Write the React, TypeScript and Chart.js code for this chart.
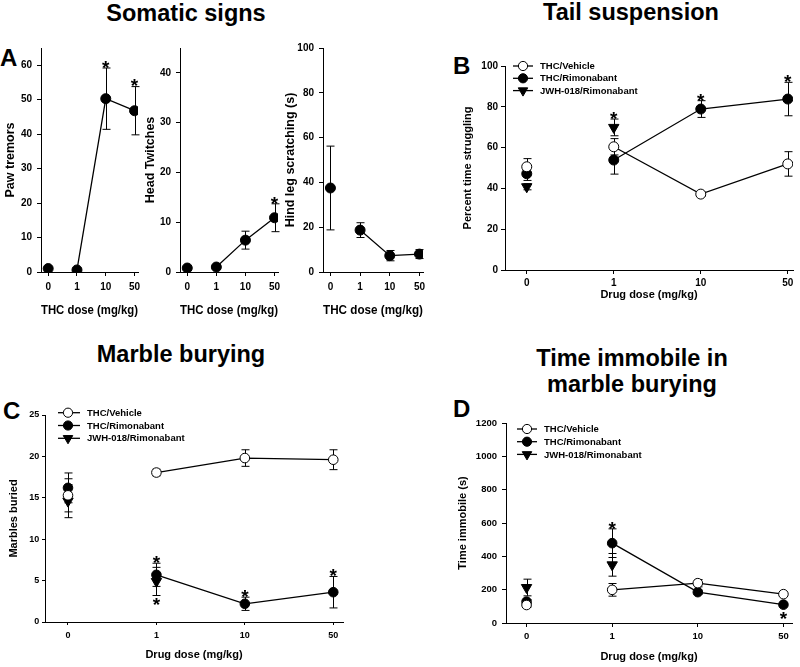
import React, { useEffect, useRef } from 'react';
import { Chart, registerables } from 'chart.js';

Chart.register(...registerables);

const FONT = "'Liberation Sans', Arial, Helvetica, sans-serif";

// ---------------- data ----------------
const DOSES = ['0', '1', '10', '50'];
const SERIES_LABELS = ['THC/Vehicle', 'THC/Rimonabant', 'JWH-018/Rimonabant'];

// Panel A – somatic signs (THC/Rimonabant)
const PAW_TREMORS = [1.0, 0.6, 50.3, 46.8];
const PAW_TREMORS_SEM = [0.4, 0.3, 8.9, 7.0];
const PAW_TICKS = [0, 10, 20, 30, 40, 50, 60];

const HEAD_TWITCHES = [0.8, 1.0, 6.4, 10.9];
const HEAD_TWITCHES_SEM = [0.3, 0.4, 1.8, 2.8];
const HEAD_TICKS = [0, 10, 20, 30, 40];

const HIND_LEG = [37.5, 18.7, 7.3, 8.0];
const HIND_LEG_SEM = [18.7, 3.3, 2.3, 2.0];
const HIND_TICKS = [0, 20, 40, 60, 80, 100];

// Panel B – tail suspension
const TAIL_VEHICLE = [50.6, 60.4, 37.2, 52.0];
const TAIL_VEHICLE_SEM = [4.0, 4.0, 1.0, 6.0];
const TAIL_RIMO = [47.2, 53.9, 78.9, 83.8];
const TAIL_RIMO_SEM = [3.3, 6.9, 4.1, 8.2];
const TAIL_JWH = [40.8, 69.9];
const TAIL_JWH_SEM = [1.5, 4.1];
const TAIL_TICKS = [0, 20, 40, 60, 80, 100];

// Panel C – marble burying
const MARBLE_VEHICLE = [15.3, 18.05, 19.8, 19.6];
const MARBLE_VEHICLE_SEM = [2.0, 0.4, 1.0, 1.2];
const MARBLE_RIMO = [16.2, 5.7, 2.2, 3.6];
const MARBLE_RIMO_SEM = [1.8, 1.4, 0.8, 1.9];
const MARBLE_JWH = [14.6, 4.9];
const MARBLE_JWH_SEM = [2.0, 1.7];
const MARBLE_TICKS = [0, 5, 10, 15, 20, 25];

// Panel D – time immobile in marble burying
const IMMOBILE_VEHICLE = [108, 199, 239, 173];
const IMMOBILE_VEHICLE_SEM = [12, 38, 22, 10];
const IMMOBILE_RIMO = [128, 479, 185, 110];
const IMMOBILE_RIMO_SEM = [12, 86, 12, 10];
const IMMOBILE_JWH = [213, 349];
const IMMOBILE_JWH_SEM = [50, 68];
const IMMOBILE_TICKS = [0, 200, 400, 600, 800, 1000, 1200];

// significance marks: series index, dose index, side
const PAW_STARS = [
  { series: 0, dose: 2, side: 'above' },
  { series: 0, dose: 3, side: 'above' },
];
const HEAD_STARS = [{ series: 0, dose: 3, side: 'above' }];
const TAIL_STARS = [
  { series: 2, dose: 1, side: 'above' },
  { series: 1, dose: 2, side: 'above' },
  { series: 1, dose: 3, side: 'above' },
];
const MARBLE_STARS = [
  { series: 1, dose: 1, side: 'above' },
  { series: 2, dose: 1, side: 'below' },
  { series: 1, dose: 2, side: 'above' },
  { series: 1, dose: 3, side: 'above' },
];
const IMMOBILE_STARS = [
  { series: 1, dose: 1, side: 'above' },
  { series: 1, dose: 3, side: 'below' },
];

// ---------------- plugins ----------------
const errorBarPlugin = {
  id: 'errorBars',
  beforeDatasetsDraw(chart: any, _a: any, opts: any) {
    const ctx = chart.ctx;
    const ys = chart.scales.y;
    const cap = opts.cap ?? 4;
    ctx.save();
    ctx.strokeStyle = '#000';
    ctx.lineWidth = 1;
    chart.data.datasets.forEach((ds: any, i: number) => {
      const meta = chart.getDatasetMeta(i);
      if (!ds.errors) return;
      meta.data.forEach((pt: any, j: number) => {
        const v = ds.data[j].y;
        const e = ds.errors[j];
        if (e == null || v == null) return;
        const x = Math.round(pt.x) + 0.5;
        const t = ys.getPixelForValue(v + e);
        const b = ys.getPixelForValue(v - e);
        ctx.beginPath();
        ctx.moveTo(x, t);
        ctx.lineTo(x, b);
        ctx.moveTo(x - cap, t);
        ctx.lineTo(x + cap, t);
        ctx.moveTo(x - cap, b);
        ctx.lineTo(x + cap, b);
        ctx.stroke();
      });
    });
    ctx.restore();
  },
};

const starPlugin = {
  id: 'stars',
  afterDatasetsDraw(chart: any, _a: any, opts: any) {
    const items = opts.items || [];
    const ctx = chart.ctx;
    const ys = chart.scales.y;
    const size = opts.size ?? 20;
    const gap = opts.gap ?? 6;
    ctx.save();
    ctx.font = `bold ${size}px ${FONT}`;
    ctx.fillStyle = '#000';
    ctx.textAlign = 'center';
    ctx.textBaseline = 'alphabetic';
    for (let k = 0; k < items.length; k++) {
      const st = items[k];
      const ds = chart.data.datasets[st.series];
      const pt = chart.getDatasetMeta(st.series).data[st.dose];
      const v = ds.data[st.dose].y;
      const e = ds.errors[st.dose];
      const r = ds.pointRadius;
      let cy;
      if (st.side === 'above') cy = Math.min(ys.getPixelForValue(v + e), pt.y - r) - gap;
      else cy = Math.max(ys.getPixelForValue(v - e), pt.y + r) + gap;
      ctx.fillText('*', pt.x, cy + 0.57 * size);
    }
    ctx.restore();
  },
};

function drawMarker(ctx: any, kind: string, x: number, y: number, r: number) {
  ctx.beginPath();
  if (kind === 'tri') {
    ctx.moveTo(x - r * 0.866, y - r * 0.5);
    ctx.lineTo(x + r * 0.866, y - r * 0.5);
    ctx.lineTo(x, y + r);
    ctx.closePath();
  } else {
    ctx.arc(x, y, r, 0, Math.PI * 2);
  }
  ctx.fillStyle = kind === 'open' ? '#fff' : '#000';
  ctx.fill();
  ctx.lineWidth = 1;
  ctx.strokeStyle = '#000';
  ctx.stroke();
}

const legendPlugin = {
  id: 'panelLegend',
  afterDraw(chart: any, _a: any, opts: any) {
    if (!opts || !opts.show) return;
    const ctx = chart.ctx;
    const { left, top } = chart.chartArea;
    ctx.save();
    chart.data.datasets.forEach((ds: any, i: number) => {
      const y = top + opts.y0 + i * opts.dy;
      ctx.beginPath();
      ctx.strokeStyle = '#000';
      ctx.lineWidth = 1.3;
      ctx.moveTo(left + opts.x0, y);
      ctx.lineTo(left + opts.x1, y);
      ctx.stroke();
      drawMarker(ctx, ds.markerKind, left + opts.xm, y, ds.markerKind === 'tri' ? 5.5 : 4.6);
      ctx.fillStyle = '#000';
      ctx.font = `bold ${opts.size}px ${FONT}`;
      ctx.textAlign = 'left';
      ctx.textBaseline = 'middle';
      ctx.fillText(ds.label, left + opts.xt, y + 0.5);
    });
    ctx.restore();
  },
};

// ---------------- panel specs ----------------
type Series = { label: string; values: number[]; sem: number[]; marker: string };

const A_STYLE = {
  titleSize: 12.5, titleWeight: 'bold', tickSize: 10,
  xTickLen: 4, xTickPad: 5, yTickLen: 4, yTickPad: 5,
  xMin: -0.25, xMax: 3.12, dotR: 5, triR: 6,
};

const PANELS: any[] = [
  {
    ...A_STYLE,
    area: { l: 41, t: 48, r: 138, b: 272 }, yTitleX: 10, xTitleY: 310,
    yTitle: 'Paw tremors', xTitle: 'THC dose (mg/kg)', yMax: 65, yTicks: PAW_TICKS,
    series: [{ label: 'THC', values: PAW_TREMORS, sem: PAW_TREMORS_SEM, marker: 'filled' }],
    stars: PAW_STARS,
  },
  {
    ...A_STYLE,
    area: { l: 180, t: 48, r: 278, b: 272 }, yTitleX: 150, xTitleY: 310,
    yTitle: 'Head Twitches', xTitle: 'THC dose (mg/kg)', yMax: 45, yTicks: HEAD_TICKS,
    series: [{ label: 'THC', values: HEAD_TWITCHES, sem: HEAD_TWITCHES_SEM, marker: 'filled' }],
    stars: HEAD_STARS,
  },
  {
    ...A_STYLE,
    area: { l: 323, t: 48, r: 423, b: 272 }, yTitleX: 290, xTitleY: 310,
    yTitle: 'Hind leg scratching (s)', xTitle: 'THC dose (mg/kg)', yMax: 100, yTicks: HIND_TICKS,
    series: [{ label: 'THC', values: HIND_LEG, sem: HIND_LEG_SEM, marker: 'filled' }],
    stars: [],
  },
  {
    titleSize: 11, titleWeight: 'bold', tickSize: 10,
    xTickLen: 4, xTickPad: 3.3, yTickLen: 4, yTickPad: 3,
    xMin: -0.25, xMax: 3.06, dotR: 5, triR: 6,
    area: { l: 505, t: 66, r: 793, b: 270 }, yTitleX: 468, xTitleY: 295,
    yTitle: 'Percent time struggling', xTitle: 'Drug dose (mg/kg)', yMax: 100, yTicks: TAIL_TICKS,
    series: [
      { label: SERIES_LABELS[0], values: TAIL_VEHICLE, sem: TAIL_VEHICLE_SEM, marker: 'open' },
      { label: SERIES_LABELS[1], values: TAIL_RIMO, sem: TAIL_RIMO_SEM, marker: 'filled' },
      { label: SERIES_LABELS[2], values: TAIL_JWH, sem: TAIL_JWH_SEM, marker: 'tri' },
    ],
    stars: TAIL_STARS,
    legend: { show: true, x0: 8, x1: 28, xm: 18, xt: 35, y0: 0, dy: 12.3, size: 9.5 },
  },
  {
    titleSize: 11, titleWeight: 'bold', tickSize: 9,
    xTickLen: 3, xTickPad: 5.6, yTickLen: 3, yTickPad: 2.7,
    xMin: -0.26, xMax: 3.11, dotR: 4.8, triR: 6,
    area: { l: 45, t: 415, r: 343, b: 622 }, yTitleX: 14, xTitleY: 655,
    yTitle: 'Marbles buried', xTitle: 'Drug dose (mg/kg)', yMax: 25, yTicks: MARBLE_TICKS,
    series: [
      { label: SERIES_LABELS[0], values: MARBLE_VEHICLE, sem: MARBLE_VEHICLE_SEM, marker: 'open' },
      { label: SERIES_LABELS[1], values: MARBLE_RIMO, sem: MARBLE_RIMO_SEM, marker: 'filled' },
      { label: SERIES_LABELS[2], values: MARBLE_JWH, sem: MARBLE_JWH_SEM, marker: 'tri' },
    ],
    stars: MARBLE_STARS,
    legend: { show: true, x0: 13, x1: 35, xm: 23, xt: 42, y0: -2.3, dy: 12.8, size: 9.5 },
  },
  {
    titleSize: 11, titleWeight: 'bold', tickSize: 9.5,
    xTickLen: 4, xTickPad: 3.3, yTickLen: 4, yTickPad: 5,
    xMin: -0.24, xMax: 3.1, dotR: 4.8, triR: 6,
    area: { l: 506, t: 423, r: 792, b: 623 }, yTitleX: 463, xTitleY: 657,
    yTitle: 'Time immobile (s)', xTitle: 'Drug dose (mg/kg)', yMax: 1200, yTicks: IMMOBILE_TICKS,
    series: [
      { label: SERIES_LABELS[0], values: IMMOBILE_VEHICLE, sem: IMMOBILE_VEHICLE_SEM, marker: 'open' },
      { label: SERIES_LABELS[1], values: IMMOBILE_RIMO, sem: IMMOBILE_RIMO_SEM, marker: 'filled' },
      { label: SERIES_LABELS[2], values: IMMOBILE_JWH, sem: IMMOBILE_JWH_SEM, marker: 'tri' },
    ],
    stars: IMMOBILE_STARS,
    legend: { show: true, x0: 11, x1: 31, xm: 21, xt: 38, y0: 6, dy: 12.7, size: 9.5 },
  },
];

function geom(p: any) {
  const lh = p.titleSize * 1.2;
  const left = Math.round(p.yTitleX - lh / 2);
  const top = Math.round(p.area.t - 14);
  const right = Math.round(p.area.r + 10);
  const bottom = Math.round(p.xTitleY + lh / 2);
  return {
    left, top, width: right - left, height: bottom - top,
    yW: p.area.l - left, xH: bottom - p.area.b,
    padT: p.area.t - top, padR: right - p.area.r,
  };
}

function buildConfig(p: any, g: any): any {
  const tickFont = { family: FONT, size: p.tickSize, weight: 'bold' };
  const titleFont = { family: FONT, size: p.titleSize, weight: p.titleWeight, lineHeight: 1.2 };
  const datasets = p.series.map((s: Series) => {
    const tri = s.marker === 'tri';
    return {
      label: s.label,
      markerKind: s.marker,
      data: s.values.map((v, i) => ({ x: i, y: v })),
      errors: s.sem,
      showLine: !tri,
      borderColor: '#000',
      borderWidth: 1.3,
      segment: {
        borderColor: (c: any) => (c.p0DataIndex === 0 ? 'rgba(0,0,0,0)' : '#000'),
      },
      pointStyle: tri ? 'triangle' : 'circle',
      pointRotation: tri ? 180 : 0,
      pointRadius: tri ? p.triR : p.dotR,
      pointHoverRadius: tri ? p.triR : p.dotR,
      pointBackgroundColor: s.marker === 'open' ? '#fff' : '#000',
      pointBorderColor: '#000',
      pointBorderWidth: 1,
      tension: 0,
      fill: false,
    };
  });
  return {
    type: 'line',
    data: { datasets },
    plugins: [errorBarPlugin, starPlugin, legendPlugin],
    options: {
      responsive: false,
      maintainAspectRatio: false,
      animation: false,
      events: [],
      layout: { padding: { top: g.padT, right: g.padR, left: 0, bottom: 0 }, autoPadding: false },
      plugins: {
        legend: { display: false },
        tooltip: { enabled: false },
        errorBars: { cap: 4 },
        stars: { items: p.stars, size: 19, gap: 5 },
        panelLegend: p.legend || { show: false },
      },
      scales: {
        x: {
          type: 'linear',
          min: p.xMin,
          max: p.xMax,
          afterBuildTicks: (s: any) => { s.ticks = DOSES.map((_, i) => ({ value: i })); },
          afterFit: (s: any) => { s.height = g.xH; },
          ticks: {
            callback: (v: any) => DOSES[v] ?? '',
            font: tickFont, color: '#000', padding: p.xTickPad,
            maxRotation: 0, minRotation: 0, autoSkip: false,
          },
          grid: { drawOnChartArea: false, drawTicks: true, tickLength: p.xTickLen, tickColor: '#000', tickWidth: 1 },
          border: { display: true, color: '#000', width: 1 },
          title: { display: true, text: p.xTitle, font: titleFont, color: '#000', padding: 0 },
        },
        y: {
          type: 'linear',
          min: 0,
          max: p.yMax,
          afterBuildTicks: (s: any) => { s.ticks = p.yTicks.map((v: number) => ({ value: v })); },
          afterFit: (s: any) => { s.width = g.yW; },
          ticks: { callback: (v: any) => String(v), font: tickFont, color: '#000', padding: p.yTickPad, autoSkip: false },
          grid: { drawOnChartArea: false, drawTicks: true, tickLength: p.yTickLen, tickColor: '#000', tickWidth: 1 },
          border: { display: true, color: '#000', width: 1 },
          title: { display: true, text: p.yTitle, font: titleFont, color: '#000', padding: 0 },
        },
      },
    },
  };
}

function ChartPanel({ spec }: { spec: any }) {
  const ref = useRef<HTMLCanvasElement>(null);
  const g = geom(spec);
  useEffect(() => {
    if (!ref.current) return;
    const chart = new Chart(ref.current, buildConfig(spec, g));
    return () => chart.destroy();
  }, []);
  return (
    <canvas
      ref={ref}
      width={g.width}
      height={g.height}
      style={{ position: 'absolute', left: g.left, top: g.top, width: g.width, height: g.height }}
    />
  );
}

const TITLES = [
  { text: 'Somatic signs', cx: 186, base: 21.5 },
  { text: 'Tail suspension', cx: 631, base: 21 },
  { text: 'Marble burying', cx: 181, base: 363.3 },
  { text: 'Time immobile in', cx: 632, base: 367.3 },
  { text: 'marble burying', cx: 632, base: 393.3 },
];
const LETTERS = [
  { text: 'A', left: 0, base: 66.7 },
  { text: 'B', left: 453, base: 74 },
  { text: 'C', left: 3, base: 419.3 },
  { text: 'D', left: 453, base: 417.3 },
];

function Label({ text, left, base, size, center }: any) {
  return (
    <div
      style={{
        position: 'absolute',
        left,
        top: base - 0.8465 * size,
        transform: center ? 'translateX(-50%)' : undefined,
        fontFamily: FONT,
        fontWeight: 'bold',
        fontSize: size,
        lineHeight: `${size}px`,
        whiteSpace: 'nowrap',
        color: '#000',
      }}
    >
      {text}
    </div>
  );
}

export default function App() {
  return (
    <div style={{ position: 'fixed', left: 0, top: 0, width: 800, height: 667, background: '#fff', overflow: 'hidden' }}>
      {TITLES.map((t) => (
        <Label key={t.text} text={t.text} left={t.cx} base={t.base} size={23.5} center />
      ))}
      {LETTERS.map((t) => (
        <Label key={t.text} text={t.text} left={t.left} base={t.base} size={24} />
      ))}
      {PANELS.map((p, i) => (
        <ChartPanel key={i} spec={p} />
      ))}
    </div>
  );
}
